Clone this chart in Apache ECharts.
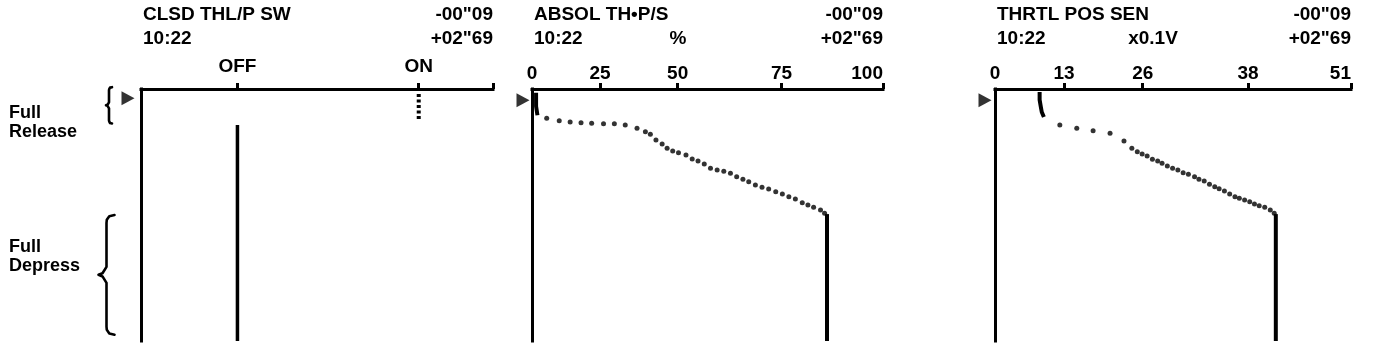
<!DOCTYPE html>
<html><head><meta charset="utf-8">
<script src="https://cdn.jsdelivr.net/npm/echarts@6/dist/echarts.min.js"></script>
<style>html,body{margin:0;padding:0;background:#fff}#c{width:1376px;height:352px}</style>
</head><body><div id="c"></div>
<script>
// ================= DATA =================
const clockTime = '10:22';
const timeStartLabel = '-00"09';
const timeEndLabel = '+02"69';
const timeMin = -0.09;   // s (top of graph)
const timeMax = 2.69;    // s (bottom of graph)
const triggerTime = 0;   // ▶ marker

const panelTitles = ['CLSD THL/P SW', 'ABSOL TH•P/S', 'THRTL POS SEN'];
const panelUnits = ['', '%', 'x0.1V'];

// Panel 1: closed throttle switch
const switchTickLabels = ['OFF', 'ON'];
const switchOnTimes = [-0.035, 0.252];   // ON while released (dotted)
const switchOffTimes = [0.307, 2.69];    // OFF afterwards (solid)

// Panel 2: absolute throttle position sensor, %
const tpPctTickLabels = [0, 25, 50, 75, 100];
const tpPctStartValues = [1.5, 1.5, 2.0];
const tpPctStartTimes = [-0.05, 0.10, 0.20];
const tpPctDotValues = [5.4, 10.0, 14.0, 18.0, 21.9, 26.1, 29.6, 33.1, 36.9, 39.6, 41.2, 43.0, 45.0, 46.6, 48.4,
  50.2, 52.0, 53.5, 54.9, 56.4, 57.9, 59.5, 61.1, 62.7, 64.2, 65.7, 67.1, 68.7, 70.3, 71.9, 73.6,
  75.2, 76.8, 78.4, 80.1, 81.5, 82.9, 84.6, 85.6];
const tpPctDotTimes = [0.233, 0.260, 0.274, 0.282, 0.288, 0.293, 0.293, 0.307, 0.344, 0.381, 0.410, 0.473, 0.517, 0.564, 0.594,
  0.613, 0.638, 0.682, 0.704, 0.737, 0.785, 0.804, 0.818, 0.840, 0.877, 0.906, 0.933, 0.969, 0.994, 1.013, 1.043,
  1.068, 1.098, 1.123, 1.164, 1.190, 1.215, 1.245, 1.281];
const tpPctEndValues = [86.2, 86.2];
const tpPctEndTimes = [1.29, 2.69];

// Panel 3: throttle position sensor voltage, x0.1 V
const tpsTickLabels = [0, 13, 26, 38, 51];
const tpsStartValues = [8.4, 8.4, 8.6, 8.8, 9.2];
const tpsStartTimes = [-0.057, 0.031, 0.098, 0.164, 0.219];
const tpsDotValues = [12.2, 15.1, 17.8, 20.6, 22.9, 24.2, 25.1, 25.9, 26.5, 27.1, 27.7, 28.2, 28.8, 29.4, 30.0,
  30.6, 31.2, 31.9, 32.4, 33.0, 33.6, 34.2, 34.7, 35.3, 35.9, 36.5, 37.0, 37.6, 38.2, 38.8, 39.4, 40.1, 40.8, 41.3];
const tpsDotTimes = [0.307, 0.344, 0.370, 0.399, 0.484, 0.564, 0.602, 0.627, 0.649, 0.686, 0.704, 0.730, 0.759, 0.785, 0.804,
  0.833, 0.851, 0.877, 0.906, 0.925, 0.961, 0.988, 1.010, 1.035, 1.068, 1.098, 1.116, 1.134, 1.153, 1.179, 1.197, 1.215, 1.245, 1.281];
const tpsEndValues = [41.5, 41.5];
const tpsEndTimes = [1.29, 2.69];

// Pedal annotations
const pedalLabels = ['Full\nRelease', 'Full\nDepress'];
const pedalStartTimes = [-0.11, 1.30];
const pedalEndTimes = [0.29, 2.62];

// ================= LAYOUT (scan-tool printed scale) =================
// the scan tool's printed scales are not linear: tick positions as fraction of axis width
const scaleTickFrac = [0, 0.194, 0.415, 0.711, 1];
const switchTickFrac = [0.274, 0.789];
const FONT = '"Liberation Sans", Arial, sans-serif';

function toFrac(v, ticks, fracs) {
  for (let i = 0; i < ticks.length - 1; i++) {
    if (v <= ticks[i + 1] || i === ticks.length - 2) {
      return fracs[i] + (v - ticks[i]) / (ticks[i + 1] - ticks[i]) * (fracs[i + 1] - fracs[i]);
    }
  }
}
const zip = (vals, times, ticks, fracs) => vals.map((v, i) => [toFrac(v, ticks, fracs), times[i]]);
const sw = s => switchTickFrac[switchTickLabels.indexOf(s)];

const grids = [
  { left: 141, top: 89, width: 352, height: 252 },
  { left: 532, top: 89, width: 351, height: 252 },
  { left: 995, top: 89, width: 356, height: 252 }
];

function xAxisFor(i) {
  const isSw = i === 0;
  const fr = isSw ? switchTickFrac : scaleTickFrac;
  const labels = isSw ? switchTickLabels : (i === 1 ? tpPctTickLabels : tpsTickLabels);
  return {
    gridIndex: i, type: 'value', position: 'top', min: 0, max: 1,
    axisLine: { show: true, onZero: false, lineStyle: { color: '#000', width: 3, cap: 'square' } },
    axisTick: { show: true, inside: false, length: 6, lineStyle: { color: '#000', width: 3 },
      customValues: isSw ? switchTickFrac.concat([1]) : scaleTickFrac.slice(1) },
    axisLabel: {
      show: true, customValues: fr, margin: isSw ? 13 : 6,
      showMinLabel: true, showMaxLabel: true,
      alignMaxLabel: isSw ? null : 'right',
      color: '#000', fontFamily: FONT, fontWeight: 'bold', fontSize: 19,
      formatter: v => { const k = fr.findIndex(f => Math.abs(f - v) < 1e-6); return k >= 0 ? String(labels[k]) : ''; }
    },
    splitLine: { show: false }
  };
}
function yAxisFor(i) {
  return {
    gridIndex: i, type: 'value', inverse: true, min: timeMin, max: timeMax, position: 'left',
    axisLine: { show: true, onZero: false, lineStyle: { color: '#000', width: 3, cap: 'square' } },
    axisTick: { show: false }, axisLabel: { show: false }, splitLine: { show: false }
  };
}

const solid = (i, data, w) => ({
  type: 'line', xAxisIndex: i, yAxisIndex: i, data, symbol: 'none', silent: true, animation: false,
  lineStyle: { color: '#000', width: w || 3.5 }, clip: false
});
const dots = (i, data) => ({
  type: 'scatter', xAxisIndex: i, yAxisIndex: i, data, symbol: 'circle', symbolSize: 5,
  itemStyle: { color: '#000' }, silent: true, animation: false, clip: false
});
const triOffsets = [[-13, 1], [-9, 3], [-10, 3]];
const trigger = i => ({
  type: 'scatter', xAxisIndex: i, yAxisIndex: i, data: [[0, triggerTime]],
  symbol: 'path://M0,0L12,6.5L0,13Z', symbolSize: [13, 14], symbolOffset: triOffsets[i],
  itemStyle: { color: '#000' }, silent: true, animation: false, clip: false
});

const series = [
  Object.assign(solid(0, switchOnTimes.map(t => [sw('ON'), t]), 4), { lineStyle: { color: '#000', width: 4, type: [3, 2.5] } }),
  solid(0, switchOffTimes.map(t => [sw('OFF'), t]), 3.5),
  solid(1, zip(tpPctStartValues, tpPctStartTimes, tpPctTickLabels, scaleTickFrac), 4),
  dots(1, zip(tpPctDotValues, tpPctDotTimes, tpPctTickLabels, scaleTickFrac)),
  solid(1, zip(tpPctEndValues, tpPctEndTimes, tpPctTickLabels, scaleTickFrac), 4),
  solid(2, zip(tpsStartValues, tpsStartTimes, tpsTickLabels, scaleTickFrac), 4),
  dots(2, zip(tpsDotValues, tpsDotTimes, tpsTickLabels, scaleTickFrac)),
  solid(2, zip(tpsEndValues, tpsEndTimes, tpsTickLabels, scaleTickFrac), 4),
  trigger(0), trigger(1), trigger(2)
];

// header texts
const txt = (text, x, y, align) => ({
  type: 'text', x, y, silent: true,
  style: { text, fill: '#000', font: 'bold 19px ' + FONT, align: align || 'left', verticalAlign: 'middle' }
});
const headerRow1Y = 14.5, headerRow2Y = 39;
const unitCenters = [null, 678, 1153];
const graphics = [];
grids.forEach((g, i) => {
  graphics.push(txt(panelTitles[i], g.left + 2, headerRow1Y));
  graphics.push(txt(timeStartLabel, g.left + g.width, headerRow1Y, 'right'));
  graphics.push(txt(clockTime, g.left + 2, headerRow2Y));
  graphics.push(txt(timeEndLabel, g.left + g.width, headerRow2Y, 'right'));
  if (panelUnits[i]) graphics.push(txt(panelUnits[i], unitCenters[i], headerRow2Y, 'center'));
});

const chart = echarts.init(document.getElementById('c'), null, { renderer: 'canvas' });
chart.setOption({
  animation: false, backgroundColor: '#fff',
  grid: grids.map(g => Object.assign({ containLabel: false }, g)),
  xAxis: [0, 1, 2].map(xAxisFor),
  yAxis: [0, 1, 2].map(yAxisFor),
  series,
  graphic: { elements: graphics }
});

// pedal annotations: braces drawn at time positions through the y scale
const braceX = [109, 106.5], braceHook = [3, 8], braceTip = [3, 8];
const labelCenterY = [123, 257];
const extra = [];
pedalLabels.forEach((lab, k) => {
  const y0 = chart.convertToPixel({ yAxisIndex: 0 }, pedalStartTimes[k]);
  const y1 = chart.convertToPixel({ yAxisIndex: 0 }, pedalEndTimes[k]);
  const ym = (y0 + y1) / 2, x = braceX[k], h = braceHook[k], tp = braceTip[k];
  const pts = [[x + h, y0], [x + h * 0.35, y0 + h * 0.15], [x + 0.3, y0 + h * 0.6], [x, y0 + h],
    [x, ym - tp], [x - tp * 0.5, ym - tp * 0.2], [x - tp, ym], [x - tp * 0.5, ym + tp * 0.2], [x, ym + tp],
    [x, y1 - h], [x + 0.3, y1 - h * 0.6], [x + h * 0.35, y1 - h * 0.15], [x + h, y1]];
  extra.push({ type: 'polyline', silent: true, shape: { points: pts },
    style: { stroke: '#000', lineWidth: 2.6, fill: null, lineJoin: 'round', lineCap: 'round' } });
  extra.push({ type: 'text', x: 9, y: labelCenterY[k], silent: true,
    style: { text: lab, fill: '#000', font: 'bold 18px ' + FONT, lineHeight: 19, align: 'left', verticalAlign: 'middle' } });
});
chart.setOption({ graphic: { elements: graphics.concat(extra) } });
</script></body></html>
